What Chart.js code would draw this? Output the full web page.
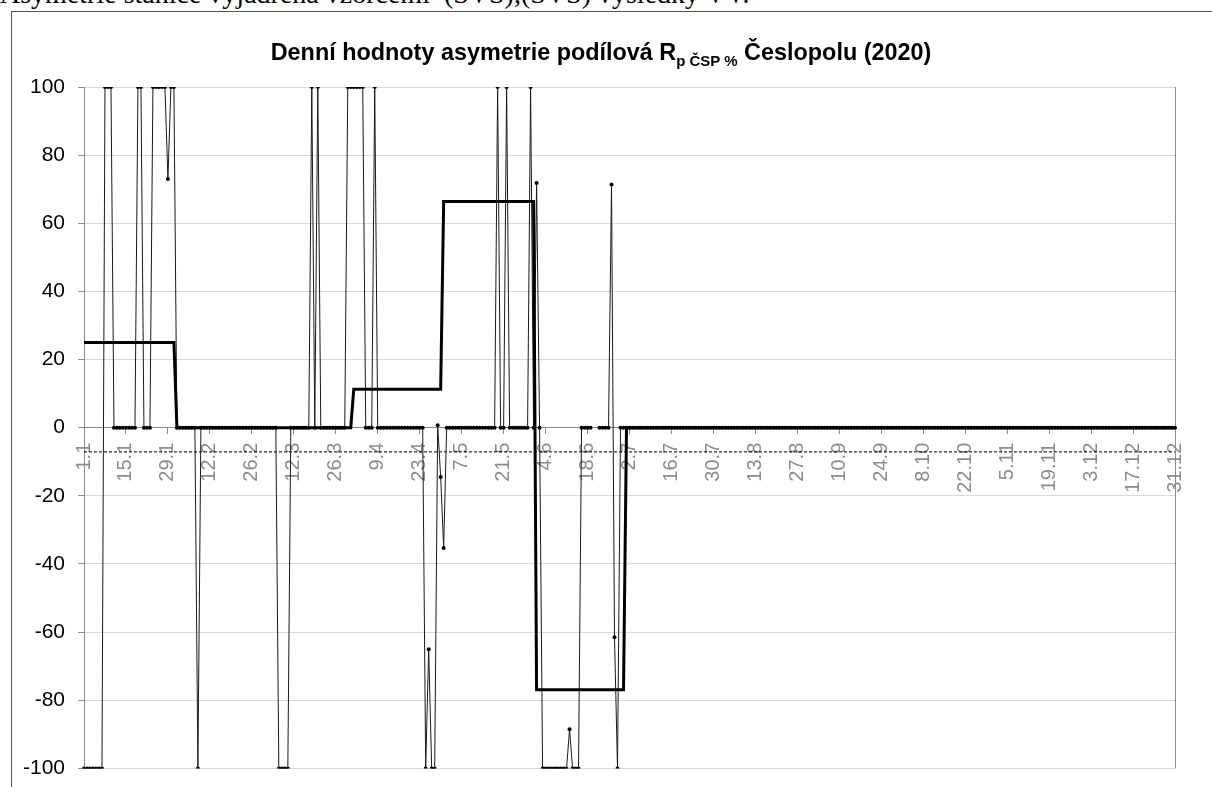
<!DOCTYPE html>
<html><head><meta charset="utf-8">
<script src="https://cdn.jsdelivr.net/npm/chart.js@4.4.0/dist/chart.umd.min.js"></script>
<style>
html,body{margin:0;padding:0;background:#fff;width:1212px;height:787px;overflow:hidden;position:relative;}
#doc{position:absolute;left:0;top:-23px;font-family:"Liberation Serif","Times New Roman",serif;font-size:28px;white-space:nowrap;color:#000;line-height:1.2;}
#frame{position:absolute;left:11px;top:11px;width:1300px;height:900px;border:1px solid #555;box-sizing:border-box;}
#title{position:absolute;left:0;width:1202px;top:39px;text-align:center;font-family:"Liberation Sans",Arial,sans-serif;font-weight:bold;font-size:23.4px;color:#000;line-height:26px;}
#title sub{font-size:15px;vertical-align:-6px;line-height:0;}
#c{position:absolute;left:0;top:0;}
</style></head><body>
<div id="doc">Asymetrie stanice vyjádřená vzorcemi &nbsp;(SVS),(SVS) výsledky VV.</div>
<div id="frame"></div>
<canvas id="c" width="1212" height="794"></canvas>
<div id="title">Denní hodnoty asymetrie podílová R<sub>p ČSP %</sub> Česlopolu (2020)</div>
<script>
// ---- data ----
const monthDays = [31,28,31,30,31,30,31,31,30,31,30,31];
const tickLabels = ['1.1','15.1','29.1','12.2','26.2','12.3','26.3','9.4','23.4','7.5','21.5','4.6','18.6','2.7','16.7','30.7','13.8','27.8','10.9','24.9','8.10','22.10','5.11','19.11','3.12','17.12','31.12'];

const dailyJan = [-100,-100,-100,-100,-100,-100,-100,100,100,100,0,0,0,0,0,0,0,0,100,100,0,0,0,100,100,100,100,100,73,100,100];
const dailyFeb = [0,0,0,0,0,0,0,-100,0,0,0,0,0,0,0,0,0,0,0,0,0,0,0,0,0,0,0,0];
const dailyMar = [0,0,0,0,0,0,-100,-100,-100,-100,0,0,0,0,0,0,0,100,0,100,0,0,0,0,0,0,0,0,0,100,100];
const dailyApr = [100,100,100,100,0,0,0,100,0,0,0,0,0,0,0,0,0,0,0,0,0,0,0,0,-100,-65,-100,-100,0.7,-14.5];
const dailyMay = [-35.3,0,0,0,0,0,0,0,0,0,0,0,0,0,0,0,0,0,100,0,0,100,0,0,0,0,0,0,0,100,0];
const dailyJun = [71.8,0,-100,-100,-100,-100,-100,-100,-100,-100,-100,-88.5,-100,-100,-100,0,0,0,0,null,null,0,0,0,0,71.4,-61.5,-100,0,0];
const dailyJul = [0,0,0,0,0,0,0,0,0,0,0,0,0,0,0,0,0,0,0,0,0,0,0,0,0,0,0,0,0,0,0];
const dailyAug = [0,0,0,0,0,0,0,0,0,0,0,0,0,0,0,0,0,0,0,0,0,0,0,0,0,0,0,0,0,0,0];
const dailySep = [0,0,0,0,0,0,0,0,0,0,0,0,0,0,0,0,0,0,0,0,0,0,0,0,0,0,0,0,0,0];
const dailyOct = [0,0,0,0,0,0,0,0,0,0,0,0,0,0,0,0,0,0,0,0,0,0,0,0,0,0,0,0,0,0,0];
const dailyNov = [0,0,0,0,0,0,0,0,0,0,0,0,0,0,0,0,0,0,0,0,0,0,0,0,0,0,0,0,0,0];
const dailyDec = [0,0,0,0,0,0,0,0,0,0,0,0,0,0,0,0,0,0,0,0,0,0,0,0,0,0,0,0,0,0,0];

const monthlyValues = [25, 0, 0, 11.3, 66.4, -76.9, 0, 0, 0, 0, 0, 0];
const meanLine = -7.1;

// ---- build ----
const categories = [];
monthDays.forEach((n, m) => { for (let d = 1; d <= n; d++) categories.push(d + '.' + (m + 1)); });
const dailyValues = [].concat(dailyJan, dailyFeb, dailyMar, dailyApr, dailyMay, dailyJun,
                              dailyJul, dailyAug, dailySep, dailyOct, dailyNov, dailyDec);
const monthlyPoints = [];
let start = 0;
monthDays.forEach((n, m) => {
  monthlyPoints.push({x: categories[start], y: monthlyValues[m]});
  monthlyPoints.push({x: categories[start + n - 1], y: monthlyValues[m]});
  start += n;
});
const meanPoints = [{x: categories[0], y: meanLine}, {x: categories[categories.length - 1], y: meanLine}];

const FONT = '"Liberation Sans", Arial, sans-serif';
const isTick = i => tickLabels.includes(categories[i]);

const rightBorder = {
  id: 'rightBorder',
  beforeDatasetsDraw(chart) {
    const a = chart.chartArea, ctx = chart.ctx;
    ctx.save();
    ctx.strokeStyle = '#8c8c8c';
    ctx.lineWidth = 1;
    ctx.beginPath();
    ctx.moveTo(Math.round(a.right) + 0.5, a.top);
    ctx.lineTo(Math.round(a.right) + 0.5, a.bottom);
    ctx.stroke();
    ctx.restore();
  }
};

new Chart(document.getElementById('c'), {
  type: 'line',
  data: {
    labels: categories,
    datasets: [
      {
        label: 'měsíční',
        data: monthlyPoints,
        borderColor: '#000',
        borderWidth: 3,
        pointRadius: 0,
        tension: 0,
        order: 0
      },
      {
        label: 'denní',
        data: dailyValues,
        borderColor: '#1a1a1a',
        borderWidth: 1,
        pointRadius: 2,
        pointBackgroundColor: '#000',
        pointBorderWidth: 0,
        tension: 0,
        spanGaps: false,
        order: 1
      },
      {
        label: 'průměr',
        data: meanPoints,
        borderColor: '#000',
        borderWidth: 1,
        borderDash: [3, 2],
        pointRadius: 0,
        order: 2
      }
    ]
  },
  options: {
    responsive: false,
    animation: false,
    layout: {padding: {left: 0, right: 37, top: 87, bottom: 13}},
    plugins: {legend: {display: false}, tooltip: {enabled: false}, title: {display: false}},
    scales: {
      x: {
        type: 'category',
        position: {y: 0},
        offset: false,
        grid: {
          drawOnChartArea: false,
          color: ctx => isTick(ctx.index) ? '#8c8c8c' : 'rgba(0,0,0,0)',
          tickLength: 6
        },
        border: {color: '#8c8c8c', width: 1},
        ticks: {
          autoSkip: false,
          minRotation: 90,
          maxRotation: 90,
          color: '#8c8c8c',
          padding: 9,
          font: {family: FONT, size: 20},
          callback: (v, i) => isTick(i) ? categories[i] : ''
        }
      },
      y: {
        min: -100,
        max: 100,
        afterFit: s => { s.width = 84; },
        grid: {color: '#d9d9d9', tickColor: '#8c8c8c', tickLength: 6},
        border: {color: '#8c8c8c', width: 1},
        ticks: {stepSize: 20, color: '#000', padding: 13, font: {family: FONT, size: 21}}
      }
    }
  },
  plugins: [rightBorder]
});
</script>
</body></html>
